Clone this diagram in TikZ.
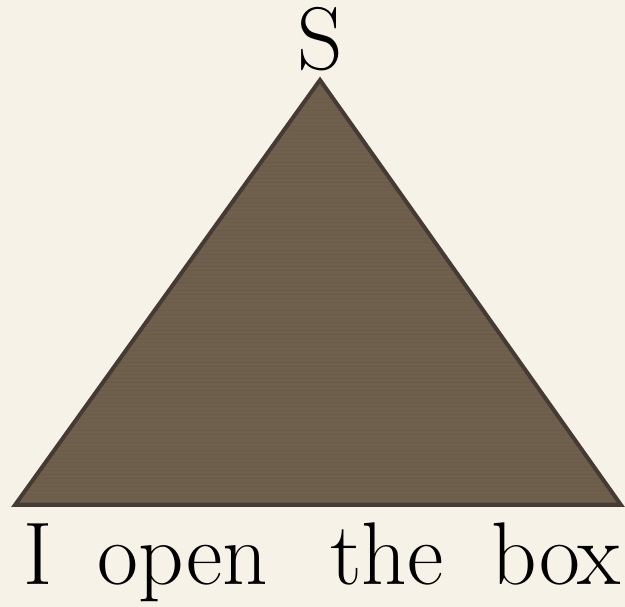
\documentclass[tikz,border=0pt]{standalone}
\usetikzlibrary{positioning}
\definecolor{paper}{HTML}{F6F2E7}
\definecolor{bark}{HTML}{6F5F4D}
\definecolor{barkdark}{HTML}{5E5040}
\definecolor{barkedge}{HTML}{463B34}
\tikzset{
  % big serif labels for the tree
  leaf/.style={inner sep=0pt, anchor=base, font=\fontsize{89}{94}\selectfont},
  tri/.style={fill=bark}
}

\begin{document}
\begin{tikzpicture}[x=1pt,y=1pt]

\fill[paper] (0,0) rectangle (625,607);
\useasboundingbox (0,0) rectangle (625,607);

% Triangle corners
\coordinate (apex)  at (320,527);
\coordinate (left)  at (15,102);
\coordinate (right) at (621,102);

\fill[tri] (apex) -- (left) -- (right) -- cycle;

% Grain (clipped to the triangle)
\begin{scope}
  \clip (apex) -- (left) -- (right) -- cycle;
  \pgfmathsetseed{7}
  \foreach \y in {104,108,...,525} {
    \pgfmathsetmacro{\op}{0.1+rnd*0.3}
    \draw[line width=1pt, barkdark, opacity=\op] (0,\y) -- (625,\y);
  }
\end{scope}
\draw[draw=barkedge, line width=4pt] (apex) -- (left) -- (right) -- cycle;

% Labels
\node[leaf] (root) at (320,537) {S};
\node[leaf] (w1) at (38,22)  {I};
\node[leaf] (w2) at (183,22) {open};
\node[leaf] (w3) at (387,22) {the};
\node[leaf] (w4) at (556,22) {box};

\end{tikzpicture}
\end{document}
